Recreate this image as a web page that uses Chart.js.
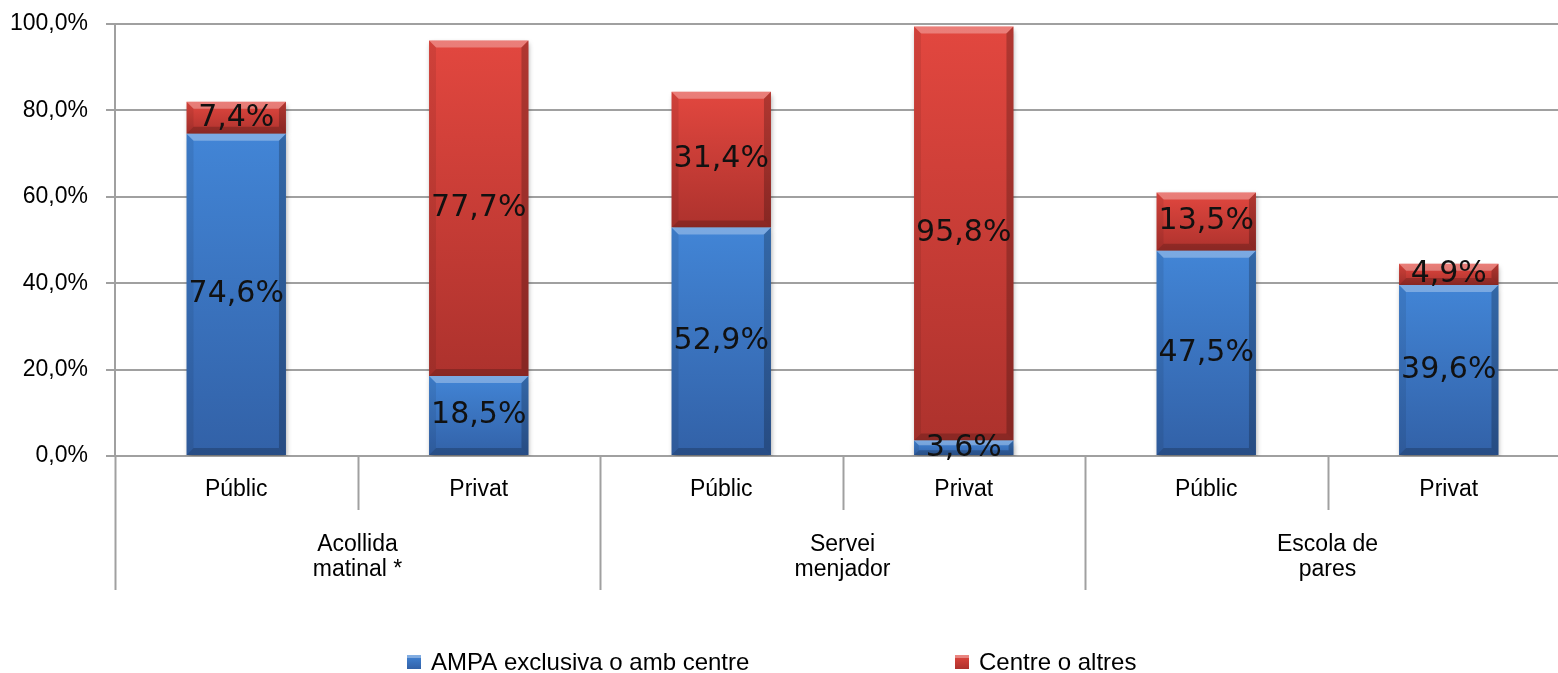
<!DOCTYPE html>
<html>
<head>
<meta charset="utf-8">
<script src="https://cdn.jsdelivr.net/npm/chart.js@4.4.0/dist/chart.umd.min.js"></script>
<style>
  html, body { margin: 0; padding: 0; background: #fff; overflow: hidden; }
  #wrap { width: 1572px; height: 673px; }
</style>
</head>
<body>
<div id="wrap"><canvas id="chart" width="1572" height="673"></canvas></div>
<script>
// =========================
// DATA
// =========================
const categories = ["Públic", "Privat", "Públic", "Privat", "Públic", "Privat"];
const groupLabels = [["Acollida", "matinal *"], ["Servei", "menjador"], ["Escola de", "pares"]];
const seriesNames = ["AMPA exclusiva o amb centre", "Centre o altres"];
const ampa = [74.6, 18.5, 52.9, 3.6, 47.5, 39.6];
const centre = [7.4, 77.7, 31.4, 95.8, 13.5, 4.9];

const AXIS_FONT = "'Liberation Sans', Arial, sans-serif";
const GRID = "#a0a0a0";
const BLUE = ["#4285d6", "#3261a7"];
const RED = ["#e2473f", "#ad322d"];

function pct(v) {
  return v.toFixed(1).replace(".", ",") + "%";
}

// vertical gradient for each stacked segment
function segFill(ctx, colors) {
  const chart = ctx.chart;
  const y = chart.scales.y;
  if (!y || ctx.type !== "data") return colors[0];
  const i = ctx.dataIndex;
  const lo = ctx.datasetIndex === 0 ? 0 : ampa[i];
  const hi = ctx.datasetIndex === 0 ? ampa[i] : ampa[i] + centre[i];
  const top = y.getPixelForValue(hi);
  const bot = y.getPixelForValue(lo);
  if (!isFinite(top) || !isFinite(bot) || top === bot) return colors[0];
  const g = chart.ctx.createLinearGradient(0, top, 0, bot);
  g.addColorStop(0, colors[0]);
  g.addColorStop(1, colors[1]);
  return g;
}

// =========================
// BEVEL + SHADOW
// =========================
const bevelPlugin = {
  id: "bevel",
  beforeDatasetsDraw(chart) {
    const c = chart.ctx;
    c.save();
    c.shadowColor = "rgba(0,0,0,0.35)";
    c.shadowBlur = 5;
    c.shadowOffsetX = 1;
    c.shadowOffsetY = 3;
  },
  afterDatasetsDraw(chart) {
    const c = chart.ctx;
    c.restore();
    chart.data.datasets.forEach((ds, d) => {
      chart.getDatasetMeta(d).data.forEach(bar => {
        const l = bar.x - bar.width / 2, r = bar.x + bar.width / 2;
        const t = Math.min(bar.y, bar.base), b = Math.max(bar.y, bar.base);
        const e = Math.min(7, (b - t) / 3);
        const poly = (pts, col) => {
          c.beginPath();
          c.moveTo(pts[0][0], pts[0][1]);
          pts.slice(1).forEach(p => c.lineTo(p[0], p[1]));
          c.closePath();
          c.fillStyle = col;
          c.fill();
        };
        poly([[l, t], [r, t], [r - e, t + e], [l + e, t + e]], "rgba(255,255,255,0.3)");
        poly([[l, t], [l + e, t + e], [l + e, b - e], [l, b]], "rgba(0,0,0,0.08)");
        poly([[r, t], [r - e, t + e], [r - e, b - e], [r, b]], "rgba(0,0,0,0.22)");
        poly([[l, b], [l + e, b - e], [r - e, b - e], [r, b]], "rgba(0,0,0,0.2)");
      });
    });
  }
};

// =========================
// VALUE LABELS
// =========================
const valueLabels = {
  id: "valueLabels",
  afterDatasetsDraw(chart) {
    const c = chart.ctx;
    c.save();
    c.font = "30px 'DejaVu Sans', Verdana, sans-serif";
    c.fillStyle = "#111";
    c.textAlign = "center";
    c.textBaseline = "middle";
    chart.data.datasets.forEach((ds, d) => {
      chart.getDatasetMeta(d).data.forEach((bar, i) => {
        c.fillText(pct(ds.data[i]), bar.x, (bar.y + bar.base) / 2);
      });
    });
    c.restore();
  }
};

// =========================
// GROUP AXIS + LEGEND
// =========================
const groupAxis = {
  id: "groupAxis",
  afterDraw(chart) {
    const c = chart.ctx;
    const x = chart.scales.x;
    const area = chart.chartArea;
    const step = x.getPixelForValue(1) - x.getPixelForValue(0);
    const edge = k => x.getPixelForValue(k) - step / 2;

    c.save();
    c.strokeStyle = GRID;
    c.lineWidth = 2;
    for (let k = 0; k <= categories.length; k++) {
      const px = Math.round(edge(k)) + 0.5;
      c.beginPath();
      c.moveTo(px, area.bottom);
      c.lineTo(px, k % 2 === 0 ? area.bottom + 134 : area.bottom + 54);
      c.stroke();
    }

    c.fillStyle = "#000";
    c.font = "23px " + AXIS_FONT;
    c.textAlign = "center";
    c.textBaseline = "alphabetic";
    groupLabels.forEach((lines, g) => {
      const cx = (edge(g * 2) + edge(g * 2 + 2)) / 2;
      lines.forEach((t, j) => c.fillText(t, cx, area.bottom + 95 + j * 25));
    });

    // legend
    const items = [[BLUE, seriesNames[0], 407], [RED, seriesNames[1], 955]];
    c.textAlign = "left";
    c.font = "24px " + AXIS_FONT;
    items.forEach(([cols, name, lx]) => {
      const g = c.createLinearGradient(0, 655, 0, 669);
      g.addColorStop(0, cols[0]);
      g.addColorStop(1, cols[1]);
      c.fillStyle = g;
      c.fillRect(lx, 655, 14, 14);
      c.fillStyle = "rgba(255,255,255,0.35)";
      c.fillRect(lx, 655, 14, 3);
      c.fillStyle = "#000";
      c.fillText(name, lx + 24, 670);
    });
    c.restore();
  }
};

new Chart(document.getElementById("chart"), {
  type: "bar",
  data: {
    labels: categories,
    datasets: [
      {
        label: seriesNames[0],
        data: ampa,
        backgroundColor: ctx => segFill(ctx, BLUE),
        borderWidth: 0,
        barPercentage: 0.82,
        categoryPercentage: 0.5
      },
      {
        label: seriesNames[1],
        data: centre,
        backgroundColor: ctx => segFill(ctx, RED),
        borderWidth: 0,
        barPercentage: 0.82,
        categoryPercentage: 0.5
      }
    ]
  },
  options: {
    responsive: false,
    animation: false,
    layout: { padding: { top: 24, right: 2, bottom: 0, left: 0 } },
    plugins: {
      legend: { display: false },
      tooltip: { enabled: false },
      title: { display: false }
    },
    scales: {
      x: {
        stacked: true,
        grid: { display: false, drawTicks: false },
        border: { display: false },
        ticks: {
          padding: 20,
          color: "#000",
          font: { family: AXIS_FONT, size: 23 },
          maxRotation: 0
        },
        afterFit: s => { s.height = 217; }
      },
      y: {
        stacked: true,
        min: 0,
        max: 100,
        grid: { color: GRID, lineWidth: 2, tickLength: 9 },
        border: { display: true, color: GRID, width: 2 },
        ticks: {
          stepSize: 20,
          padding: 18,
          color: "#000",
          font: { family: AXIS_FONT, size: 23 },
          callback: v => pct(v)
        },
        afterFit: s => { s.width = 115; s.paddingTop = 0; s.paddingBottom = 0; }
      }
    }
  },
  plugins: [bevelPlugin, valueLabels, groupAxis]
});
</script>
</body>
</html>
